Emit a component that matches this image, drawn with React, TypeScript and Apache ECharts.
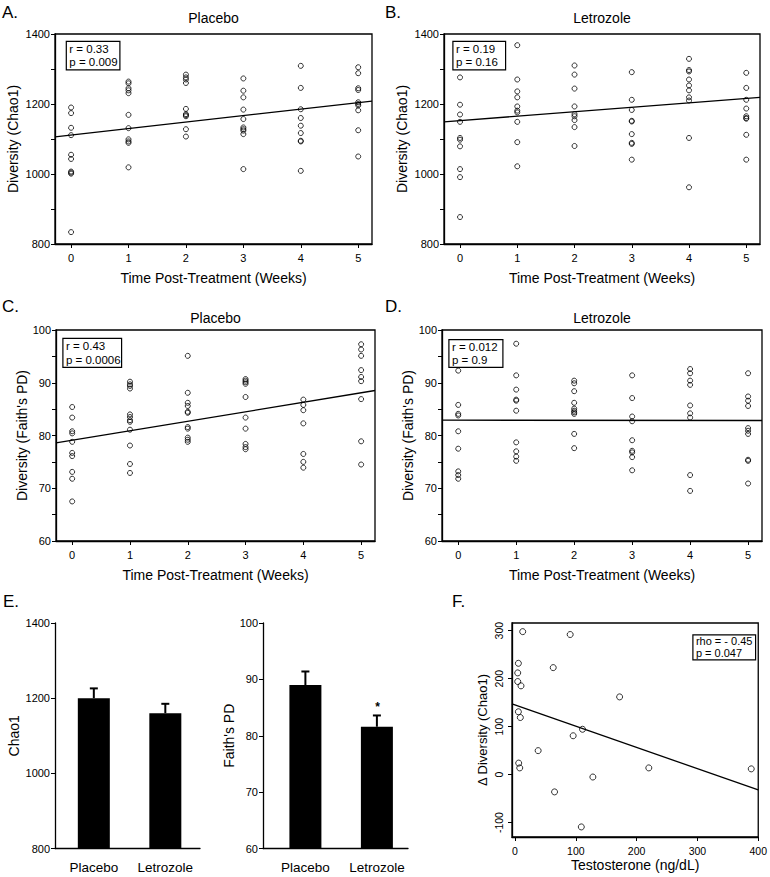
import React, { useEffect, useRef } from 'react';
import * as echarts from 'echarts';

const FONT = "'Liberation Sans', Arial, Helvetica, sans-serif";

// ---------- Data ----------
const weeks = [0, 1, 2, 3, 4, 5];

// Chao1 per week (Placebo)
const chaoPlacebo = [
  [1190, 1174, 1132, 1111, 1055, 1043, 1007, 1004, 1001, 834],
  [1264, 1259, 1245, 1239, 1231, 1169, 1131, 1099, 1093, 1089, 1019],
  [1284, 1276, 1270, 1260, 1186, 1171, 1168, 1165, 1128, 1107],
  [1273, 1238, 1219, 1184, 1157, 1133, 1128, 1124, 1114, 1014],
  [1309, 1246, 1185, 1160, 1138, 1117, 1095, 1093, 1009],
  [1305, 1288, 1245, 1240, 1205, 1200, 1196, 1182, 1125, 1050],
];
// Chao1 per week (Letrozole)
const chaoLetrozole = [
  [1276, 1198, 1170, 1149, 1103, 1098, 1079, 1014, 991, 877],
  [1368, 1270, 1236, 1219, 1193, 1181, 1176, 1149, 1091, 1022],
  [1310, 1284, 1244, 1193, 1171, 1165, 1154, 1134, 1080],
  [1291, 1212, 1183, 1152, 1150, 1114, 1089, 1086, 1041],
  [1329, 1297, 1293, 1270, 1253, 1239, 1219, 1210, 1103, 962],
  [1289, 1246, 1212, 1187, 1165, 1160, 1158, 1112, 1041],
];
// Faith's PD per week (Placebo)
const faithPlacebo = [
  [85.4, 83.4, 80.8, 80.4, 78.8, 76.7, 76.1, 73.1, 71.8, 67.5],
  [90.2, 89.7, 89.4, 88.9, 84.0, 83.5, 82.9, 82.6, 81.1, 78.1, 74.6, 72.9],
  [95.1, 88.1, 86.2, 85.6, 84.5, 84.3, 81.6, 81.3, 79.6, 79.2, 78.8],
  [90.7, 90.4, 90.1, 89.8, 87.3, 83.4, 81.3, 78.4, 77.8, 77.4],
  [86.8, 85.8, 84.8, 82.3, 76.5, 75.0, 73.9],
  [97.3, 96.3, 95.1, 92.4, 91.1, 90.3, 86.9, 78.9, 74.5],
];
// Faith's PD per week (Letrozole)
const faithLetrozole = [
  [92.3, 85.8, 84.1, 83.8, 80.8, 77.5, 73.2, 72.5, 71.8],
  [97.4, 91.4, 88.7, 86.8, 86.6, 84.7, 78.7, 77.0, 76.0, 75.2],
  [90.4, 89.9, 88.4, 86.2, 85.1, 84.7, 84.4, 84.1, 80.3, 77.6],
  [91.4, 87.1, 83.6, 82.7, 79.1, 77.1, 76.8, 75.9, 73.4],
  [92.6, 91.8, 90.4, 89.6, 85.7, 84.2, 83.4, 72.5, 69.5],
  [91.8, 87.4, 86.6, 85.6, 81.4, 80.9, 80.3, 75.4, 75.2, 70.9],
];

// regression fits [intercept, slope]
const fitChaoPlacebo = [1111, 18.6];
const fitChaoLetrozole = [1152.5, 12.7];
const fitFaithPlacebo = [79.1, 1.8];
const fitFaithLetrozole = [82.9, -0.01];
const fitTestosterone = [145.3, -0.443];

const statsA = ['r = 0.33', 'p = 0.009'];
const statsB = ['r = 0.19', 'p = 0.16'];
const statsC = ['r = 0.43', 'p = 0.0006'];
const statsD = ['r = 0.012', 'p = 0.9'];
const statsF = ['rho = - 0.45', 'p = 0.047'];

// Panel E
const barGroups = ['Placebo', 'Letrozole'];
const chaoMean = [1200, 1160];
const chaoErr = [26, 25];
const faithMean = [89.0, 81.6];
const faithErr = [2.4, 2.0];

// Panel F
const testosterone = [12.6, 90.7, 5.5, 4.4, 4.4, 9.8, 62.8, 5.5, 8.7, 172, 111, 95.6, 38, 6, 7.7, 220, 128, 388.5, 65, 109];
const deltaChao = [298, 292, 232, 212, 194, 185, 223, 131, 119, 162, 94.5, 81, 50, 24, 14, 14, -5, 12, -36, -109];
const fTicksX = [0, 100, 200, 300, 400];
const fTicksY = [-100, 0, 100, 200, 300];

// ---------- helpers ----------
const X_MIN = -0.28;
const X_MAX = 5.24;
const black = '#000';
const axisLineStyle = { color: black, width: 1.3 };

const toPoints = (groups: number[][]) =>
  groups.flatMap((vals, i) => vals.map((v) => [weeks[i], v]));

const fitLine = (fit: number[], x0: number, x1: number) => [
  [x0, fit[0] + fit[1] * x0],
  [x1, fit[0] + fit[1] * x1],
];

const timeX = (gridIndex: number) => ({
  type: 'value',
  gridIndex,
  min: X_MIN,
  max: X_MAX,
  axisLine: { show: true, onZero: false, lineStyle: axisLineStyle },
  axisTick: { show: true, customValues: weeks, length: 4, lineStyle: { color: black, width: 1 } },
  axisLabel: { customValues: weeks, fontSize: 11, color: black, margin: 8, fontFamily: FONT },
  splitLine: { show: false },
  name: 'Time Post-Treatment (Weeks)',
  nameLocation: 'middle',
  nameGap: 27,
  nameTextStyle: { fontSize: 14, color: black, fontFamily: FONT },
});

const valY = (
  gridIndex: number,
  min: number,
  max: number,
  interval: number,
  labelEvery: number,
  name: string,
  nameGap: number
) => ({
  type: 'value',
  gridIndex,
  min,
  max,
  interval,
  axisLine: { show: true, onZero: false, lineStyle: axisLineStyle },
  axisTick: { show: true, length: 4, lineStyle: { color: black, width: 1 } },
  axisLabel: {
    fontSize: 11,
    color: black,
    margin: 5,
    fontFamily: FONT,
    formatter: (v: number) => (Math.abs(v % labelEvery) < 1e-6 ? String(v) : ''),
  },
  splitLine: { show: false },
  name,
  nameLocation: 'middle',
  nameGap,
  nameRotate: 90,
  nameTextStyle: { fontSize: 14, color: black, fontFamily: FONT },
});

const scatterSeries = (idx: number, data: number[][], size = 5) => ({
  type: 'scatter',
  xAxisIndex: idx,
  yAxisIndex: idx,
  data,
  symbol: 'circle',
  symbolSize: size,
  itemStyle: { color: 'rgba(0,0,0,0)', borderColor: black, borderWidth: 1 },
  silent: true,
});

const lineSeries = (idx: number, data: number[][]) => ({
  type: 'line',
  xAxisIndex: idx,
  yAxisIndex: idx,
  data,
  symbol: 'none',
  lineStyle: { color: black, width: 1.3 },
  silent: true,
});

const barSeries = (idx: number, means: number[], errs: number[], base: number) => ({
  type: 'custom',
  xAxisIndex: idx,
  yAxisIndex: idx,
  data: means.map((m, i) => [i + 1, m, errs[i]]),
  renderItem: (params: any, api: any) => {
    const x = api.value(0);
    const y = api.value(1);
    const e = api.value(2);
    const b = api.coord([x, base]);
    const t = api.coord([x, y]);
    const et = api.coord([x, y + e]);
    const w = 32;
    return {
      type: 'group',
      children: [
        { type: 'rect', shape: { x: t[0] - w / 2, y: t[1], width: w, height: b[1] - t[1] }, style: { fill: black } },
        { type: 'line', shape: { x1: t[0], y1: t[1], x2: t[0], y2: et[1] }, style: { stroke: black, lineWidth: 2 } },
        { type: 'line', shape: { x1: t[0] - 4, y1: et[1], x2: t[0] + 4, y2: et[1] }, style: { stroke: black, lineWidth: 2 } },
      ],
    };
  },
  silent: true,
});

const statBox = (x: number, y: number, w: number, h: number, lines: string[], fontSize = 11.5) => ({
  type: 'group',
  left: x,
  top: y,
  children: [
    { type: 'rect', shape: { x: 0, y: 0, width: w, height: h }, style: { fill: '#fff', stroke: black, lineWidth: 1.2 } },
    {
      type: 'text',
      x: 3,
      y: h / 2,
      style: {
        text: lines.join('\n'),
        font: `${fontSize}px ${FONT}`,
        fill: black,
        verticalAlign: 'middle',
        lineHeight: h / 2 - 0.5,
      },
    },
  ],
});

const txt = (x: number, y: number, text: string, size: number, align = 'left', extra: any = {}) => ({
  type: 'text',
  x,
  y,
  style: { text, font: `${size}px ${FONT}`, fill: black, align, verticalAlign: 'middle', ...extra },
});

export default function App() {
  const ref = useRef<HTMLDivElement>(null);

  useEffect(() => {
    if (!ref.current) return;
    const chart = echarts.init(ref.current, null, { renderer: 'svg' });

    const gridBox = { show: true, borderColor: black, borderWidth: 1.3, backgroundColor: 'rgba(0,0,0,0)' };
    const grids = [
      { left: 55, top: 34, width: 317, height: 210, ...gridBox },
      { left: 444, top: 34, width: 316, height: 210, ...gridBox },
      { left: 56, top: 330, width: 319, height: 211, ...gridBox },
      { left: 442, top: 330, width: 320, height: 211, ...gridBox },
      { left: 55, top: 623, width: 145, height: 225.5, show: false },
      { left: 263, top: 623, width: 145, height: 225.5, show: false },
      { left: 512, top: 623, width: 247, height: 214, ...gridBox },
    ];

    const eX = (gridIndex: number, min: number, max: number) => ({
      type: 'value',
      gridIndex,
      min,
      max,
      axisLine: { show: true, onZero: false, lineStyle: axisLineStyle },
      axisTick: { show: false },
      axisLabel: {
        customValues: [1, 2],
        fontSize: 13.5,
        color: black,
        margin: 12,
        fontFamily: FONT,
        formatter: (v: number) => barGroups[Math.round(v) - 1],
      },
      splitLine: { show: false },
    });

    const option: any = {
      animation: false,
      backgroundColor: '#fff',
      grid: grids,
      xAxis: [
        timeX(0),
        timeX(1),
        timeX(2),
        timeX(3),
        eX(4, 0.457, 2.485),
        eX(5, 0.407, 2.435),
        {
          type: 'value',
          gridIndex: 6,
          min: -5,
          max: 400,
          axisLine: { show: true, onZero: false, lineStyle: axisLineStyle },
          axisTick: { show: true, customValues: fTicksX, length: 4, lineStyle: { color: black } },
          axisLabel: { customValues: fTicksX, fontSize: 10.5, color: black, margin: 8, fontFamily: FONT },
          splitLine: { show: false },
          name: 'Testosterone (ng/dL)',
          nameLocation: 'middle',
          nameGap: 21,
          nameTextStyle: { fontSize: 14, color: black, fontFamily: FONT },
        },
      ],
      yAxis: [
        valY(0, 800, 1400, 100, 200, 'Diversity (Chao1)', 35),
        valY(1, 800, 1400, 100, 200, 'Diversity (Chao1)', 35),
        valY(2, 60, 100, 5, 10, "Diversity (Faith's PD)", 27),
        valY(3, 60, 100, 5, 10, "Diversity (Faith's PD)", 27),
        valY(4, 800, 1400, 200, 200, 'Chao1', 34),
        valY(5, 60, 100, 10, 10, "Faith's PD", 24),
        {
          type: 'value',
          gridIndex: 6,
          min: -130,
          max: 316,
          axisLine: { show: true, onZero: false, lineStyle: axisLineStyle },
          axisTick: { show: true, customValues: fTicksY, length: 4, lineStyle: { color: black } },
          axisLabel: { customValues: fTicksY, fontSize: 10.5, color: black, margin: 8, rotate: 90, fontFamily: FONT },
          splitLine: { show: false },
          name: '\u0394 Diversity (Chao1)',
          nameLocation: 'middle',
          nameGap: 23,
          nameRotate: 90,
          nameTextStyle: { fontSize: 13, color: black, fontFamily: FONT },
        },
      ],
      series: [
        scatterSeries(0, toPoints(chaoPlacebo)),
        lineSeries(0, fitLine(fitChaoPlacebo, X_MIN, X_MAX)),
        scatterSeries(1, toPoints(chaoLetrozole)),
        lineSeries(1, fitLine(fitChaoLetrozole, X_MIN, X_MAX)),
        scatterSeries(2, toPoints(faithPlacebo)),
        lineSeries(2, fitLine(fitFaithPlacebo, X_MIN, X_MAX)),
        scatterSeries(3, toPoints(faithLetrozole)),
        lineSeries(3, fitLine(fitFaithLetrozole, X_MIN, X_MAX)),
        barSeries(4, chaoMean, chaoErr, 800),
        barSeries(5, faithMean, faithErr, 60),
        scatterSeries(6, testosterone.map((t, i) => [t, deltaChao[i]]), 6),
        lineSeries(6, fitLine(fitTestosterone, -5, 400)),
      ],
      graphic: [
        txt(2, 12, 'A.', 17),
        txt(385, 12, 'B.', 17),
        txt(2, 306, 'C.', 17),
        txt(385, 306, 'D.', 17),
        txt(3, 601, 'E.', 17),
        txt(452, 601, 'F.', 17),
        txt(213.5, 18, 'Placebo', 14, 'center'),
        txt(602, 18, 'Letrozole', 14, 'center'),
        txt(215.5, 318, 'Placebo', 14, 'center'),
        txt(602, 318, 'Letrozole', 14, 'center'),
        statBox(65.7, 40.7, 53.6, 28.6, statsA),
        statBox(452.3, 40.7, 52.7, 28.6, statsB),
        statBox(62.3, 337.7, 58.7, 29, statsC),
        statBox(448.3, 339, 54, 27.7, statsD),
        statBox(692.3, 634.3, 62.7, 25, statsF, 11),
        txt(377.5, 707, '*', 20, 'center', { fontWeight: 'bold' }),
      ],
    };

    chart.setOption(option);
    return () => chart.dispose();
  }, []);

  return (
    <div
      ref={ref}
      style={{ position: 'fixed', left: 0, top: 0, width: 770, height: 877, background: '#fff' }}
    />
  );
}
